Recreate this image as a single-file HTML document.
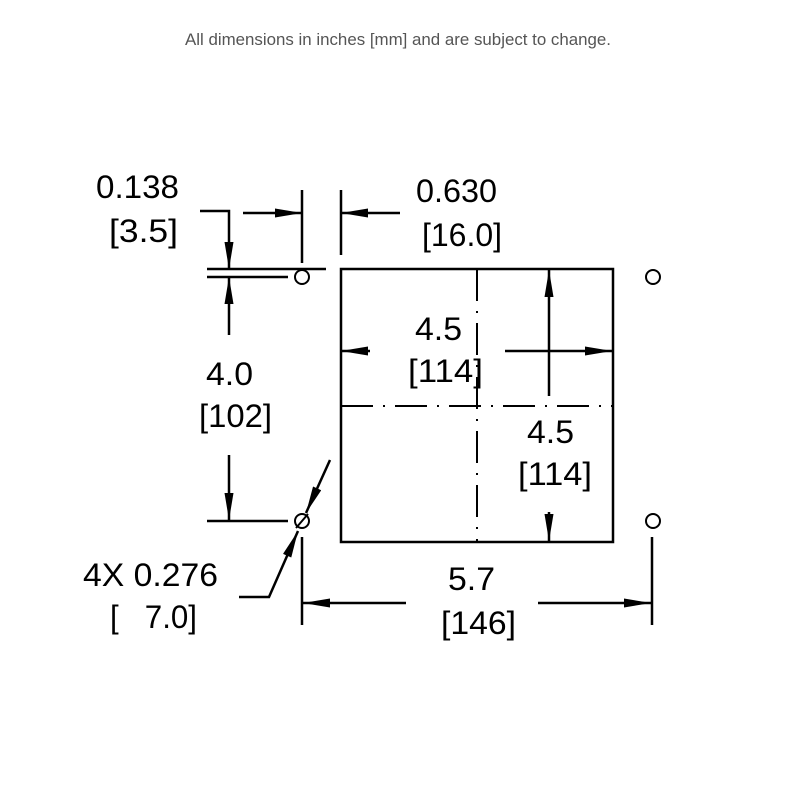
<!DOCTYPE html>
<html><head><style>body{margin:0;background:#fff}svg{display:block}</style></head><body>
<svg width="800" height="800" viewBox="0 0 800 800" xmlns="http://www.w3.org/2000/svg">
<defs>
<marker id="a" viewBox="0 0 30 10" refX="30" refY="5" markerWidth="30" markerHeight="9" markerUnits="userSpaceOnUse" orient="auto"><path d="M0,0 L30,5 L0,10 z" fill="#000"/></marker>
</defs>
<text x="398" y="45" font-family="Liberation Sans, sans-serif" font-size="17" fill="#555" text-anchor="middle" textLength="426" lengthAdjust="spacingAndGlyphs">All dimensions in inches [mm] and are subject to change.</text>
<g stroke="#000" stroke-width="2.5" fill="none">
<rect x="341" y="269" width="272" height="273"/>
<line x1="477" y1="269" x2="477" y2="542" stroke-width="2" stroke-dasharray="32,10,2,10"/>
<line x1="341" y1="406" x2="613" y2="406" stroke-width="2" stroke-dasharray="32,10,2,10"/>
<circle cx="302" cy="277" r="7" stroke-width="2"/>
<circle cx="653" cy="277" r="7" stroke-width="2"/>
<circle cx="302" cy="521" r="7" stroke-width="2"/>
<circle cx="653" cy="521" r="7" stroke-width="2"/>
<line x1="296" y1="528" x2="308" y2="514" stroke-width="2"/>
<line x1="207" y1="269" x2="326" y2="269"/>
<line x1="207" y1="277" x2="288" y2="277"/>
<polyline points="200,211 229,211 229,269" marker-end="url(#a)"/>
<line x1="229" y1="335" x2="229" y2="277" marker-end="url(#a)"/>
<line x1="302" y1="190" x2="302" y2="263"/>
<line x1="341" y1="190" x2="341" y2="255"/>
<line x1="243" y1="213" x2="302" y2="213" marker-end="url(#a)"/>
<line x1="400" y1="213" x2="341" y2="213" marker-end="url(#a)"/>
<line x1="370" y1="351" x2="341" y2="351" marker-end="url(#a)"/>
<line x1="505" y1="351" x2="612" y2="351" marker-end="url(#a)"/>
<line x1="549" y1="396" x2="549" y2="270" marker-end="url(#a)"/>
<line x1="549" y1="512" x2="549" y2="541" marker-end="url(#a)"/>
<line x1="229" y1="455" x2="229" y2="520" marker-end="url(#a)"/>
<line x1="207" y1="521" x2="288" y2="521"/>
<line x1="330" y1="460" x2="306" y2="513" marker-end="url(#a)"/>
<polyline points="239,597 269,597 298,531" marker-end="url(#a)"/>
<line x1="302" y1="537" x2="302" y2="625"/>
<line x1="652" y1="537" x2="652" y2="625"/>
<line x1="406" y1="603" x2="303" y2="603" marker-end="url(#a)"/>
<line x1="538" y1="603" x2="651" y2="603" marker-end="url(#a)"/>
</g>
<g font-family="Liberation Sans, Arial, sans-serif" font-size="32" fill="#000">
<text x="96" y="198" textLength="83" lengthAdjust="spacingAndGlyphs">0.138</text>
<text x="109" y="242" textLength="69" lengthAdjust="spacingAndGlyphs">[3.5]</text>
<text x="416" y="202" textLength="81" lengthAdjust="spacingAndGlyphs">0.630</text>
<text x="422" y="246" textLength="80" lengthAdjust="spacingAndGlyphs">[16.0]</text>
<text x="415" y="340" textLength="47" lengthAdjust="spacingAndGlyphs">4.5</text>
<text x="408" y="382" textLength="75" lengthAdjust="spacingAndGlyphs">[114]</text>
<text x="206" y="385" textLength="47" lengthAdjust="spacingAndGlyphs">4.0</text>
<text x="199" y="427" textLength="73" lengthAdjust="spacingAndGlyphs">[102]</text>
<text x="527" y="443" textLength="47" lengthAdjust="spacingAndGlyphs">4.5</text>
<text x="518" y="485" textLength="74" lengthAdjust="spacingAndGlyphs">[114]</text>
<text x="83" y="586" textLength="135" lengthAdjust="spacingAndGlyphs">4X 0.276</text>
<text x="110" y="628" textLength="87" lengthAdjust="spacingAndGlyphs" xml:space="preserve">[   7.0]</text>
<text x="448" y="590" textLength="47" lengthAdjust="spacingAndGlyphs">5.7</text>
<text x="441" y="634" textLength="75" lengthAdjust="spacingAndGlyphs">[146]</text>
</g>
</svg>
</body></html>
